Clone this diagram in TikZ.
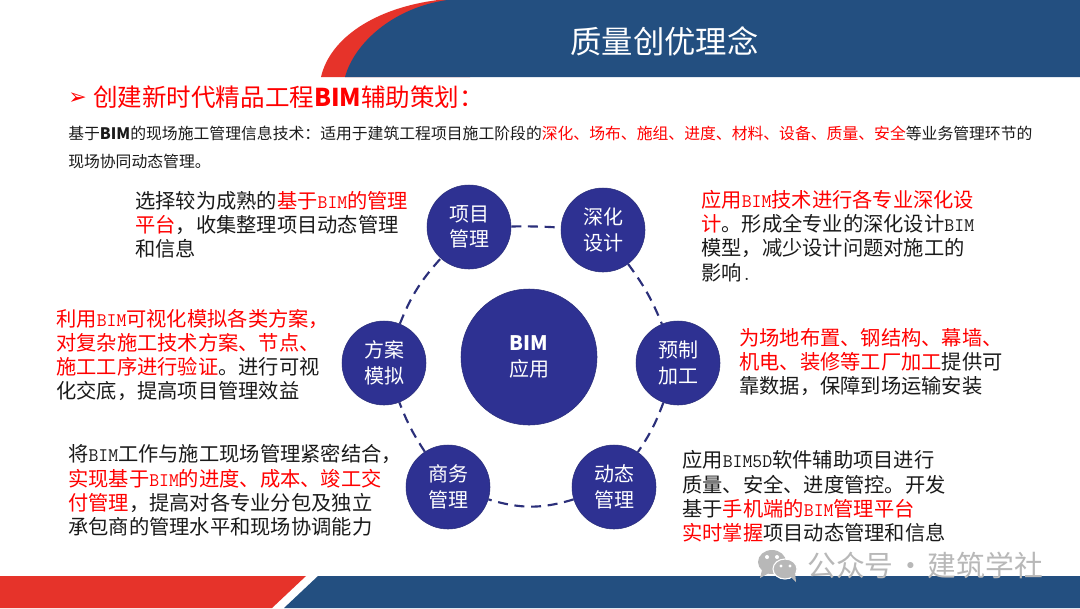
\documentclass[tikz,border=0pt]{standalone}
\usepackage{fontspec}
\usepackage{xcolor}
\setmainfont{Noto Sans CJK SC}
\newfontfamily\symfont{DejaVu Sans}
\usetikzlibrary{shapes.geometric}

\definecolor{hdblue}{HTML}{234F80}
\definecolor{hdred}{HTML}{E6332A}
\definecolor{ballblue}{HTML}{2E3192}
\definecolor{ringblue}{HTML}{2B2F7A}
\definecolor{txtred}{HTML}{FF0000}
\definecolor{txtblack}{HTML}{1A1A1A}

\newcommand{\rd}[1]{\textcolor{txtred}{#1}}
\newcommand{\tb}[1]{{\fontsize{14.4}{18.2}\selectfont\ttfamily #1}}

\tikzset{
    ball/.style={circle, draw=ringblue, thin, fill=ballblue, minimum size=63pt, inner sep=0pt,
        text=white, align=center, font=\fontsize{15}{19.2}\selectfont},
    ringline/.style={draw=ringblue, line width=1.6pt, dash pattern=on 7.5pt off 5pt},
    notetext/.style={anchor=west, inner sep=0pt, align=left, text=txtblack,
        font=\fontsize{15.2}{18.2}\selectfont},
}

\begin{document}
\begin{tikzpicture}[x=0.75pt, y=-0.75pt]
    \useasboundingbox (0,0) rectangle (1080,608);
    \fill[white] (0,0) rectangle (1080,608);

    % 1. 顶部标题栏
    \fill[hdred] (321,77) .. controls (330,38) and (375,8) .. (438,0) -- (470,0) -- (470,77) -- cycle;
    \fill[hdblue] (345,77) .. controls (354,44) and (392,8) .. (447,0) -- (1080,0) -- (1080,77) -- cycle;
    \node[text=white, inner sep=0pt, font=\fontsize{23.5}{28}\selectfont] (title) at (664.5,41.5) {质量创优理念};

    % 2. 底部色带
    \fill[hdred] (0,576) -- (306,576) -- (272,608) -- (0,608) -- cycle;
    \fill[hdblue] (318,576) -- (1080,576) -- (1080,608) -- (284,608) -- cycle;

    % 3. 小标题与说明
    \node[anchor=west, inner sep=0pt, text=txtred, font=\fontsize{16.5}{18}\selectfont] (arrowmark) at (68,99) {\symfont ➢};
    \node[anchor=west, inner sep=0pt, text=txtred, font=\fontsize{18.4}{22}\selectfont] (heading) at (93,97)
        {创建新时代精品工程\textbf{BIM}辅助策划：};
    \node[anchor=west, inner sep=0pt, text=txtblack, font=\fontsize{11.87}{21}\selectfont, align=left] (intro) at (68,147.5)
        {基于\textbf{BIM}的现场施工管理信息技术：适用于建筑工程项目施工阶段的\rd{深化、场布、施组、进度、材料、设备、质量、安全}等业务管理环节的\\
        现场协同动态管理。};

    % 4. 中心与周围圆
    \node[ball, minimum size=102pt] (center) at (529,357) {\textbf{BIM}\\应用};
    \node[ball] (xmgl) at (469,227) {项目\\管理};
    \node[ball] (shsj) at (603,230) {深化\\设计};
    \node[ball] (yzjg) at (678,363) {预制\\加工};
    \node[ball] (dtgl) at (614,487) {动态\\管理};
    \node[ball] (swgl) at (448,487) {商务\\管理};
    \node[ball] (famn) at (384,363) {方案\\模拟};

    % 5. 虚线环
    \draw[ringline] (xmgl) to[bend left=2] (shsj);
    \draw[ringline] (shsj) to[bend left=7] (yzjg);
    \draw[ringline] (yzjg) to[bend left=7] (dtgl);
    \draw[ringline] (dtgl) to[bend left=17] (swgl);
    \draw[ringline] (swgl) to[bend left=6] (famn);
    \draw[ringline] (famn) to[bend left=10] (xmgl);

    % 6. 各段文字
    \node[notetext] (notexm) at (135,225)
        {选择较为成熟的\rd{基于\tb{BIM}的管理}\\\rd{平台}，收集整理项目动态管理\\和信息};
    \node[notetext] (notefa) at (56,355)
        {\rd{利用\tb{BIM}可视化模拟各类方案，}\\\rd{对复杂施工技术方案、节点、}\\\rd{施工工序进行验证}。进行可视\\化交底，提高项目管理效益};
    \node[notetext] (notesh) at (701,236)
        {\rd{应用\tb{BIM}技术进行各专业深化设}\\\rd{计}。形成全专业的深化设计\tb{BIM}\\模型，减少设计问题对施工的\\影响\tb{.}};
    \node[notetext] (noteyz) at (739,362)
        {\rd{为场地布置、钢结构、幕墙、}\\\rd{机电、装修等工厂加工}提供可\\靠数据，保障到场运输安装};
    \node[notetext] (notesw) at (68,490.5)
        {将\tb{BIM}工作与施工现场管理紧密结合，\\\rd{实现基于\tb{BIM}的进度、成本、竣工交}\\\rd{付管理}，提高对各专业分包及独立\\承包商的管理水平和现场协调能力};
    \node[notetext] (notedt) at (682,496.5)
        {应用\tb{BIM5D}软件辅助项目进行\\质量、安全、进度管控。开发\\基于\rd{手机端的\tb{BIM}管理平台}\\\rd{实时掌握}项目动态管理和信息};

    % 7. 水印
    \fill[black!28] (772,562) ellipse (14 and 12);
    \fill[black!28] (762,570) -- (760,578) -- (769,573) -- cycle;
    \fill[white] (767,557) circle (2);
    \fill[white] (777,557) circle (2);
    \fill[black!28, draw=white, line width=0.8pt] (785,569) ellipse (12 and 10);
    \fill[black!28] (790,576) -- (796,582) -- (795,572) -- cycle;
    \fill[white] (781,566) circle (1.6);
    \fill[white] (790,566) circle (1.6);
    \node[anchor=west, inner sep=0pt, text=black!28, font=\fontsize{21.6}{26}\selectfont] (mark) at (807,565)
        {公众号\hspace{2pt}·\hspace{2pt}建筑学社};
\end{tikzpicture}
\end{document}
